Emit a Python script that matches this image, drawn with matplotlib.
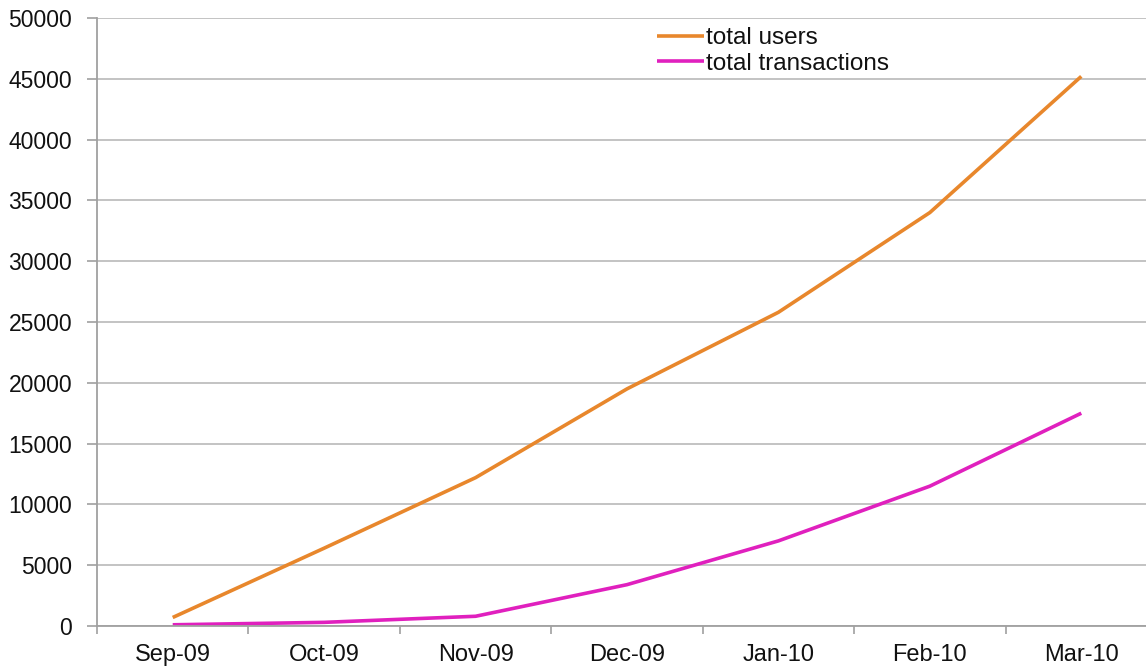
import matplotlib
matplotlib.use("Agg")
import matplotlib.pyplot as plt

months = ["Sep-09", "Oct-09", "Nov-09", "Dec-09", "Jan-10", "Feb-10", "Mar-10"]
total_users = [700, 6400, 12200, 19500, 25800, 34000, 45200]
total_transactions = [100, 300, 800, 3400, 7000, 11500, 17500]
yticks = list(range(0, 50001, 5000))

plt.rcParams['font.family'] = ['Liberation Sans', 'DejaVu Sans']

W, H = 1146, 670
fig = plt.figure(figsize=(W / 100, H / 100), dpi=100)
left, right, top, bottom = 97, 1157, 18, 626
ax = fig.add_axes([left / W, 1 - bottom / H, (right - left) / W, (bottom - top) / H])

x = list(range(len(months)))
ax.plot(x, total_users, color='#E8872C', lw=2.6, label='total users', solid_capstyle='butt')
ax.plot(x, total_transactions, color='#E020BE', lw=2.6, label='total transactions', solid_capstyle='butt')

ax.set_xlim(-0.5, len(months) - 0.5)
ax.set_ylim(0, 50000)
ax.set_yticks(yticks)
ax.set_yticklabels([str(v) for v in yticks])
ax.set_xticks([i - 0.5 for i in range(len(months) + 1)], minor=False)
ax.set_xticklabels([''] * (len(months) + 1))
ax.set_xticks(x, minor=True)
ax.set_xticklabels(months, minor=True)
ax.tick_params(axis='x', which='major', length=6, width=1.2, color='#A0A0A0', direction='out')
ax.tick_params(axis='x', which='minor', length=0, pad=13, labelsize=17, labelcolor='#111111')
ax.tick_params(axis='y', length=7, width=1.2, color='#A0A0A0', pad=11, labelsize=16.5, labelcolor='#111111')

ax.grid(axis='y', color='#BEBEBE', lw=1.3)
ax.set_axisbelow(True)
for s in ['top', 'right']:
    ax.spines[s].set_visible(False)
for s in ['left', 'bottom']:
    ax.spines[s].set_color('#A0A0A0')
    ax.spines[s].set_linewidth(1.3)

leg = fig.legend(loc='upper left', bbox_to_anchor=(657 / W, 1 - 27 / H), frameon=False,
                 fontsize=17.5, handlelength=1.95, handletextpad=0.05, borderpad=0,
                 labelspacing=0.15, borderaxespad=0)
for t in leg.get_texts():
    t.set_color('#111111')

fig.savefig('out.png', dpi=100)
